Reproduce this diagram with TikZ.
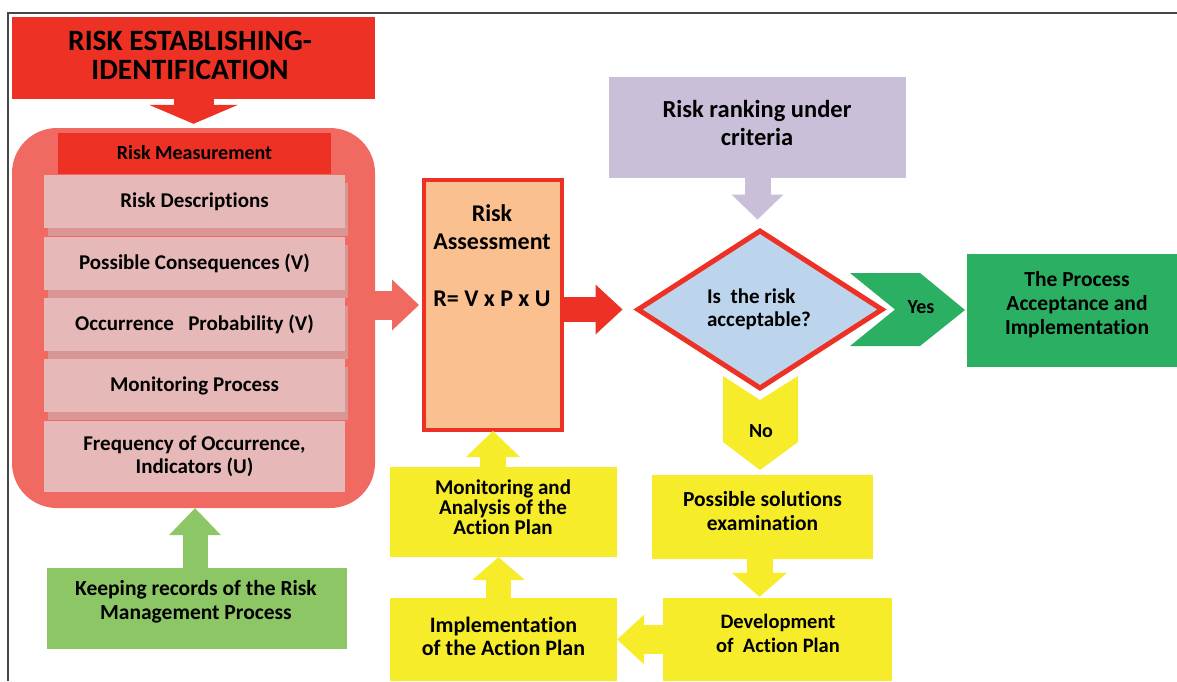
\documentclass[tikz,border=0pt]{standalone}
\usepackage{fontspec}
\setmainfont{Carlito}[Ligatures={NoCommon}]
\usetikzlibrary{arrows.meta,shapes.geometric,calc}
\definecolor{redm}{RGB}{237,49,36}
\definecolor{salmon}{RGB}{240,106,98}
\definecolor{pinkrow}{RGB}{230,185,184}
\definecolor{pinkshadow}{RGB}{217,150,148}
\definecolor{keepgreen}{RGB}{141,198,101}
\definecolor{darkgreen}{RGB}{43,176,99}
\definecolor{yell}{RGB}{246,236,42}
\definecolor{lilac}{RGB}{202,191,217}
\definecolor{lightblue}{RGB}{189,213,236}
\definecolor{orangefill}{RGB}{250,192,144}
\definecolor{framegray}{RGB}{70,70,70}
\tikzset{
  box/.style={rectangle, inner sep=0pt, align=center, text=black},
  fnt/.style n args={2}{font=\bfseries\fontsize{#1}{#2}\selectfont},
  barr/.style n args={4}{draw=#1, line width=#2, line cap=butt,
     -{Triangle[width=#3,length=#4,line width=0pt]}},
}
\begin{document}
\begin{tikzpicture}[x=1pt,y=-1pt]
\useasboundingbox (0,0) rectangle (1177,681);
\fill[white] (0,0) rectangle (1177,681);
\draw[framegray, line width=1.2pt] (8,681) -- (8,13) -- (1177,13);

% left column
\node[box, fill=redm, minimum width=363pt, minimum height=82pt] (title) at (193.5,58) {};
\node[box, fnt={29.5}{29}] (titletxt) at (190,55) {RISK ESTABLISHING-\\IDENTIFICATION};
\node[box, fill=salmon, rounded corners=45pt, minimum width=363pt, minimum height=380pt] (outer) at (193.5,318) {};
\node[box, fill=redm, minimum width=273pt, minimum height=41pt, fnt={20}{21}] (meas) at (194.5,153) {Risk Measurement};

\fill[pinkshadow] (48,183) rectangle (348,236);
\node[box, fill=pinkrow, minimum width=301pt, minimum height=53pt, fnt={21}{23}] (r1) at (194.5,201.5) {Risk Descriptions};
\fill[pinkshadow] (48,245) rectangle (348,298);
\node[box, fill=pinkrow, minimum width=301pt, minimum height=53pt, fnt={21}{23}] (r2) at (194.5,263.5) {Possible Consequences (V)};
\fill[pinkshadow] (48,306) rectangle (348,359);
\node[box, fill=pinkrow, minimum width=301pt, minimum height=53pt, fnt={21}{23}] (r3) at (194.5,324.5) {Occurrence\ \ \ Probability (V)};
\fill[pinkshadow] (48,367) rectangle (348,420);
\node[box, fill=pinkrow, minimum width=301pt, minimum height=53pt, fnt={21}{23}] (r4) at (194.5,385.5) {Monitoring Process};
\node[box, fill=pinkrow, minimum width=301pt, minimum height=71pt, fnt={21}{23}] (r5) at (194.5,456.5) {Frequency of Occurrence,\\Indicators (U)};

\node[box, fill=keepgreen, minimum width=300pt, minimum height=81pt] (keep) at (197,608.5) {};
\node[box, fnt={21.5}{24}] (keeptxt) at (196,601.5) {Keeping records of the Risk\\Management Process};

% middle
\node[box, fill=orangefill, draw=redm, line width=4pt, minimum width=138pt, minimum height=250pt] (assess) at (493,305) {};
\node[box, fnt={24}{28}] (assesstxt) at (492,256) {Risk\\Assessment\\[29pt]R= V x P x U};

\node[box, fill=yell, minimum width=227pt, minimum height=90pt] (monitor) at (503.5,512) {};
\node[box, fnt={21}{20}] (monitortxt) at (503,507.5) {Monitoring and\\Analysis of the\\Action Plan};
\node[box, fill=yell, minimum width=227pt, minimum height=83pt] (impl) at (503.5,639.5) {};
\node[box, fnt={22}{23}] (impltxt) at (503.5,636.5) {Implementation\\of the Action Plan};

% right
\node[box, fill=lilac, minimum width=297pt, minimum height=101pt] (rank) at (757.5,127.5) {};
\node[box, fnt={24.5}{28}] (ranktxt) at (757,123) {Risk ranking under\\criteria};
\node[draw=redm, fill=lightblue, line width=5pt, diamond, inner sep=0pt, minimum width=246pt, minimum height=159pt] (dia) at (760,309.5) {};
\node[box, align=left, fnt={21}{23}] (diatxt) at (759,309) {Is\ \ the risk\\acceptable?};

\fill[darkgreen] (850,273) -- (920,273) -- (965,310) -- (920,346) -- (850,346) -- (895,309.5) -- cycle;
\node[box, fnt={20}{21}] (yes) at (921,307) {Yes};
\node[box, fill=darkgreen, minimum width=210pt, minimum height=113pt] (accept) at (1072,310.5) {};
\node[box, fnt={21.5}{24}] (accepttxt) at (1077,304.5) {The Process\\Acceptance and\\Implementation};

\fill[yell] (723,376) -- (760,400) -- (798,376) -- (798,442) -- (760,470) -- (723,442) -- cycle;
\node[box, fnt={20}{21}] (no) at (761,431) {No};
\node[box, fill=yell, minimum width=221pt, minimum height=84pt] (possible) at (762.5,517) {};
\node[box, fnt={21.5}{24}] (possibletxt) at (762.5,511) {Possible solutions\\examination};
\node[box, fill=yell, minimum width=229pt, minimum height=83pt] (devel) at (777.5,639.5) {};
\node[box, fnt={20.5}{24}] (develtxt) at (778,633) {Development\\of\ \ Action Plan};

% block arrows
\draw[barr={redm}{40pt}{89pt}{19pt}, shorten >=4pt] (title.south) -- (title.south |- outer.north);
\draw[barr={keepgreen}{25pt}{52pt}{27pt}] ([xshift=-2pt]keep.north) -- ([xshift=-2pt]keep.north |- outer.south);
\draw[barr={salmon}{29pt}{51pt}{27pt}, shorten >=3pt] (outer.east |- assess.west) -- (assess.west);
\draw[barr={redm}{25pt}{50pt}{27pt}, shorten >=12pt] (assess.east |- dia.west) -- (dia.west);
\draw[barr={lilac}{26pt}{52pt}{25pt}, shorten >=8pt] (rank.south) -- (rank.south |- dia.north);
\draw[barr={yell}{26pt}{55pt}{24pt}, shorten >=1pt] ([xshift=-3pt]possible.south) -- ([xshift=-3pt]possible.south |- devel.north);
\draw[barr={yell}{29pt}{50pt}{27pt}] (devel.west) -- (devel.west -| impl.east);
\draw[barr={yell}{25pt}{53pt}{23pt}] ([xshift=-5pt]impl.north) -- ([xshift=-5pt]monitor.south);
\draw[barr={yell}{26pt}{54pt}{26pt}, shorten >=-1pt] (monitor.north -| assess.south) -- (assess.south);
\end{tikzpicture}
\end{document}
